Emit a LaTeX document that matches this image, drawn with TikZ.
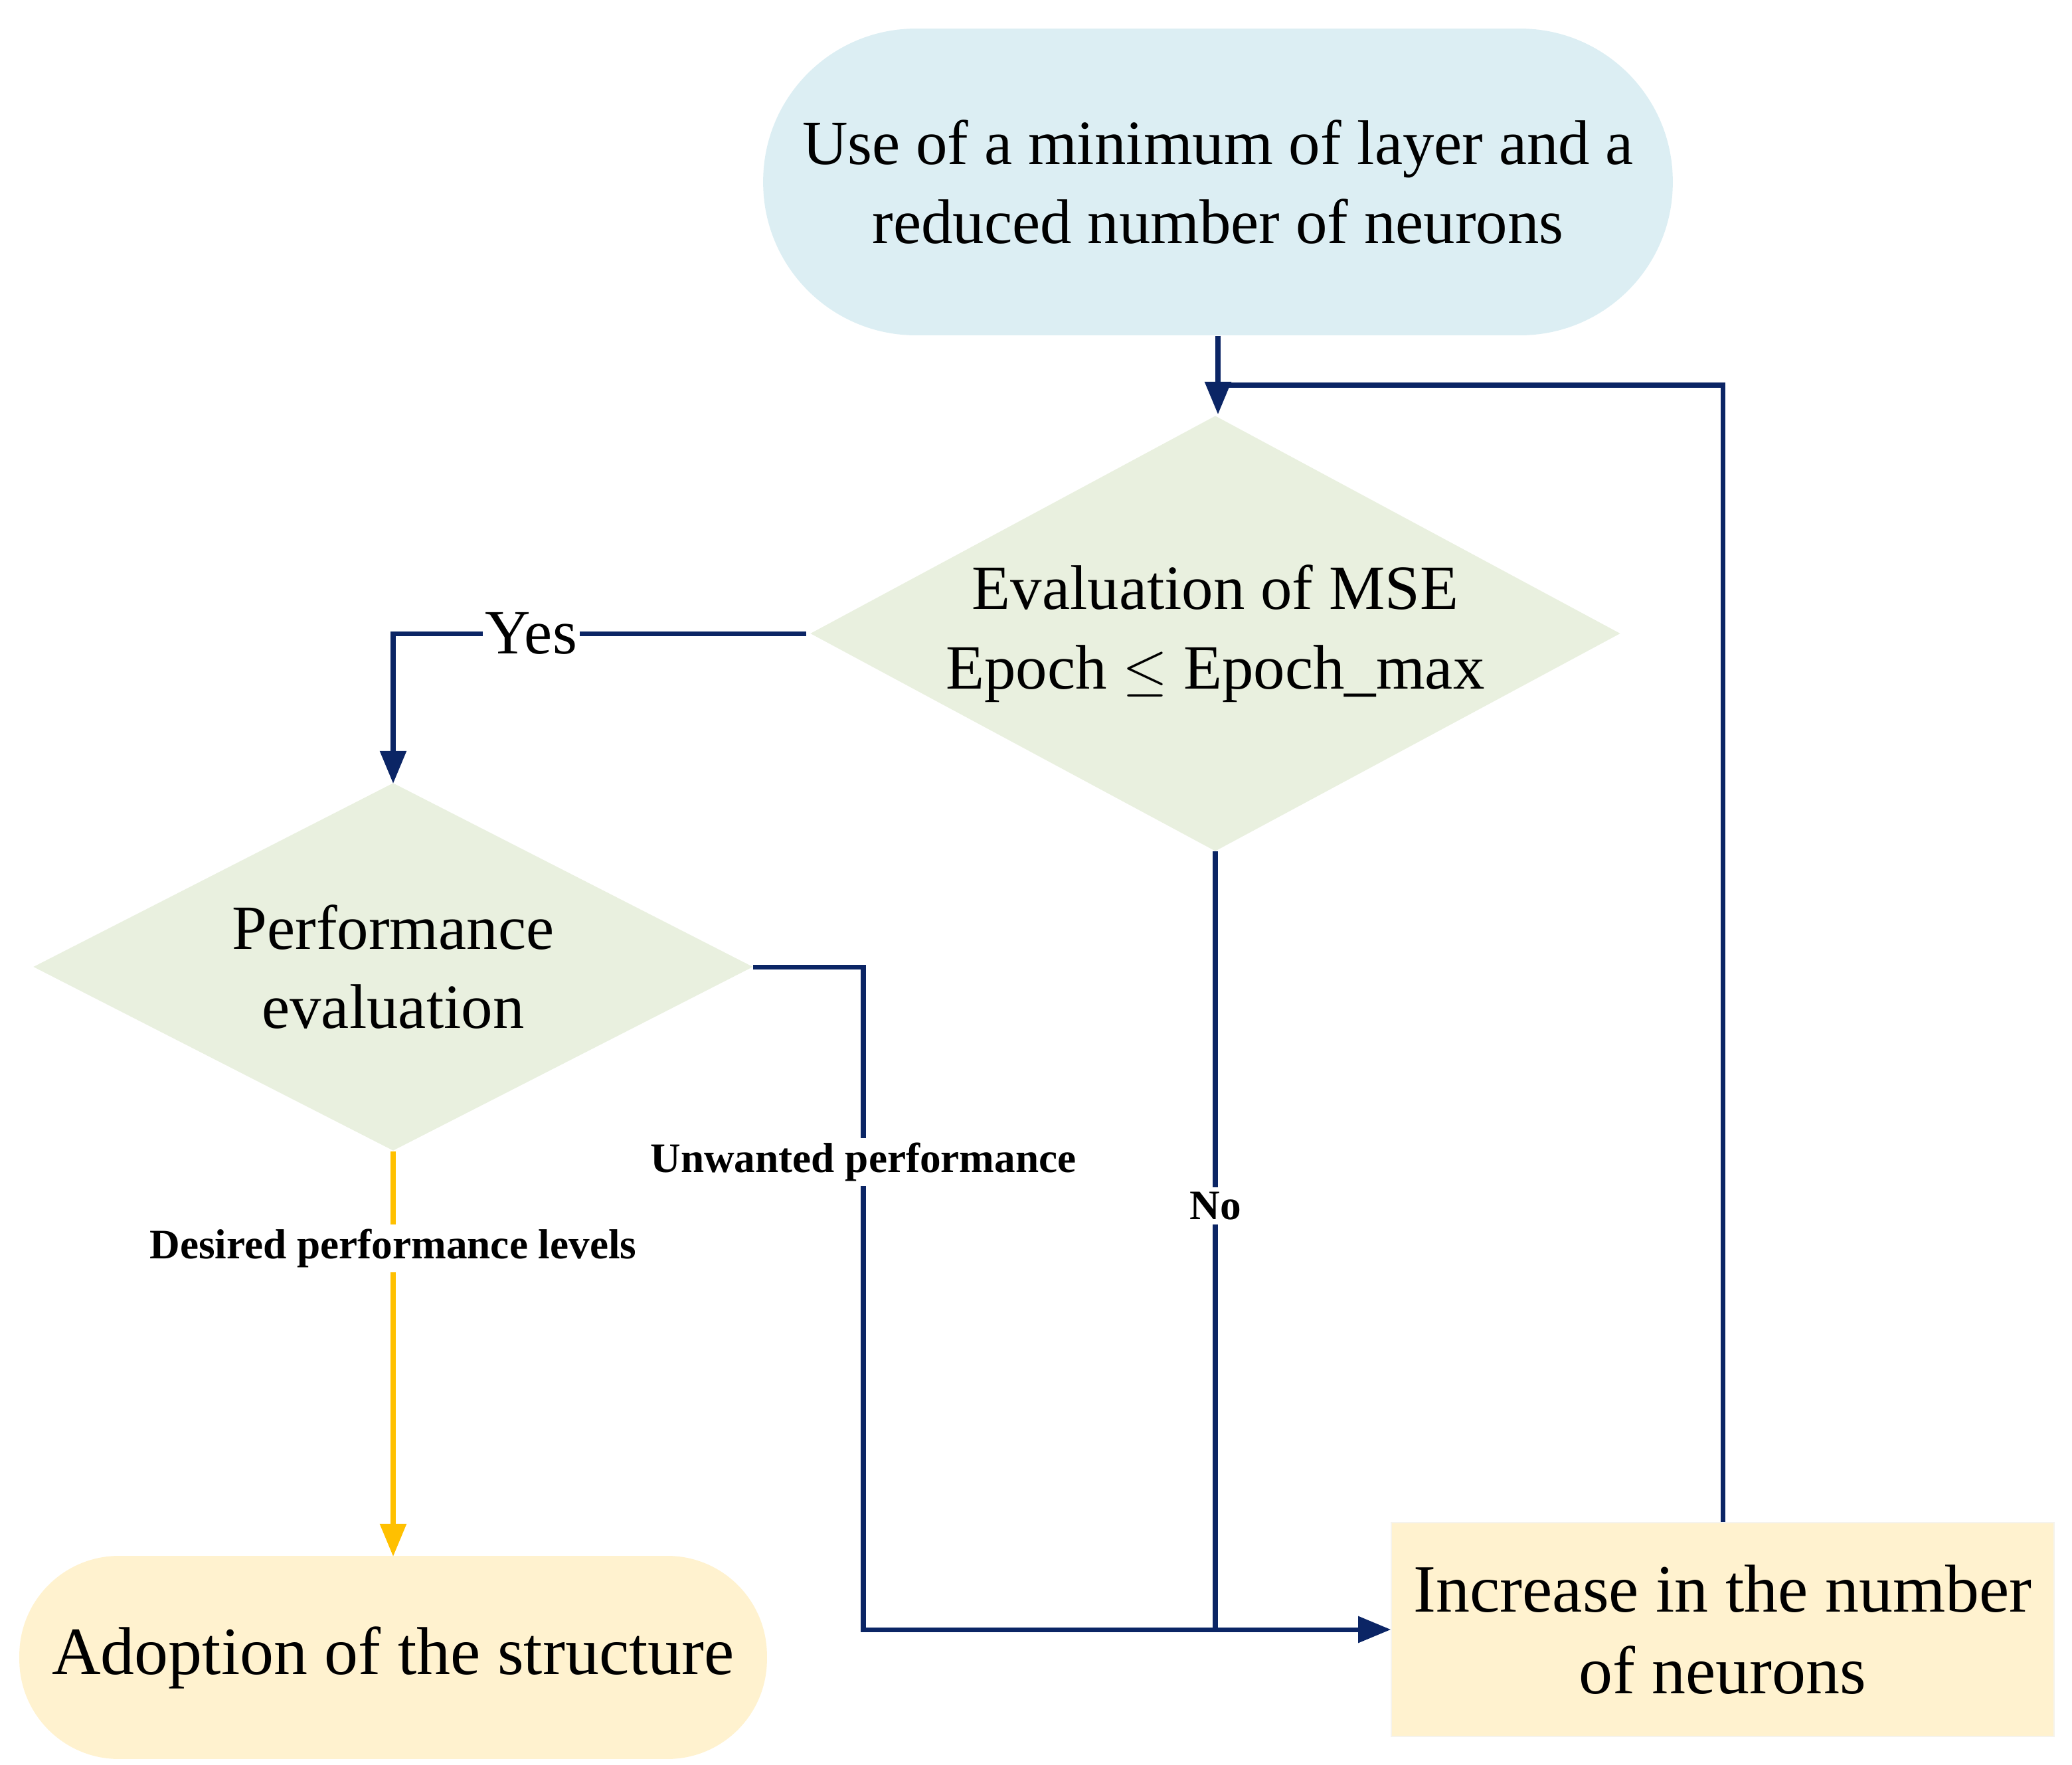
\documentclass[tikz,border=0pt]{standalone}
\usepackage{fontspec}
\setmainfont{Liberation Serif}
\usetikzlibrary{shapes.geometric,arrows.meta}
\definecolor{navy}{HTML}{0B2565}
\definecolor{lblue}{HTML}{DCEEF3}
\definecolor{lgreen}{HTML}{E9F0DF}
\definecolor{lyel}{HTML}{FFF2CF}
\definecolor{gold}{HTML}{FFC000}
\begin{document}
\begin{tikzpicture}[x=0.02cm,y=-0.02cm,
  main/.style={font=\fontsize{27}{34}\selectfont,align=center,inner sep=0pt},
  big/.style={font=\fontsize{29}{35}\selectfont},
  lab/.style={font=\fontsize{18}{20}\selectfont\bfseries,fill=white,inner sep=2pt},
  con/.style={draw=navy,line width=2pt},
  tip/.style={-{Triangle[length=14pt,width=11pt]}}]
\useasboundingbox (0,0) rectangle (1560,1329);
\node[main,fill=lblue,rounded corners=2.3cm,minimum width=13.7cm,minimum height=4.62cm] (top) at (917,137) {Use of a minimum of layer and a\\reduced number of neurons};
\node[main,diamond,fill=lgreen,minimum width=12.2cm,minimum height=6.56cm,aspect=1.86] (d1) at (915,477) {Evaluation of MSE\\Epoch $\leq$ Epoch\_max};
\node[main,diamond,fill=lgreen,minimum width=10.84cm,minimum height=5.54cm,aspect=1.96] (d2) at (296,728) {Performance\\evaluation};
\node[main,big,fill=lyel,rounded corners=1.5cm,minimum width=11.26cm,minimum height=3.06cm] (ad) at (296,1248) {Adoption of the structure};
\node[main,big,fill=lyel,draw=lyel!80!black!20,minimum width=9.98cm,minimum height=3.22cm] (inc) at (1297,1227) {Increase in the number\\of neurons};
\coordinate (j) at (917,290);
\coordinate (m) at (915,1227);
\draw[con,tip] (top.south) -- (917,312);
\draw[con] (inc.north) |- (j);
\draw[con,tip] (607,477) -| (296,590);
\node[font=\fontsize{27}{30}\selectfont,fill=white,inner sep=1pt] (yes) at (400,477) {Yes};
\draw[con,tip] (567,728) -| (650,1227) -- (inc.west);
\draw[con] (915,641) -- (m);
\draw[gold,line width=2pt,tip] (296,867) -- (296,1172);
\node[lab] (l1) at (650,875) {Unwanted performance};
\node[lab] (l2) at (915,908) {No};
\node[lab] (l3) at (296,940) {Desired performance levels};
\end{tikzpicture}
\end{document}
